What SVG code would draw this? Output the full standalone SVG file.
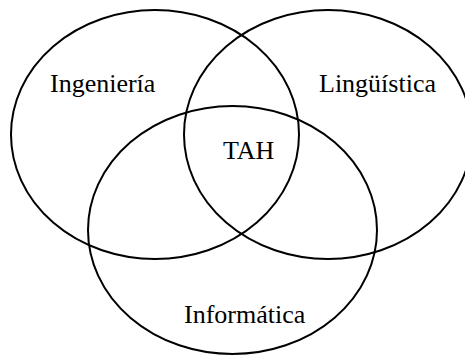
<svg xmlns="http://www.w3.org/2000/svg" width="465" height="356" viewBox="0 0 465 356">
<style>
.set{fill:none;stroke:#000;stroke-width:2}
.lbl{font-family:"Liberation Serif","Times New Roman",serif;font-size:26px;fill:#000}
</style>
<rect width="465" height="356" fill="#fff"/>
<g id="ingenieria">
<ellipse class="set" cx="155" cy="134.5" rx="144" ry="124.5"/>
<text class="lbl" x="50" y="92">Ingeniería</text>
</g>
<g id="linguistica">
<ellipse class="set" cx="328" cy="134.5" rx="144" ry="124.5"/>
<text class="lbl" x="319" y="92">Lingüística</text>
</g>
<g id="informatica">
<ellipse class="set" cx="232.5" cy="230" rx="144.5" ry="124"/>
<text class="lbl" x="184" y="323">Informática</text>
</g>
<g id="tah">
<text class="lbl" x="223" y="159">TAH</text>
</g>
</svg>
